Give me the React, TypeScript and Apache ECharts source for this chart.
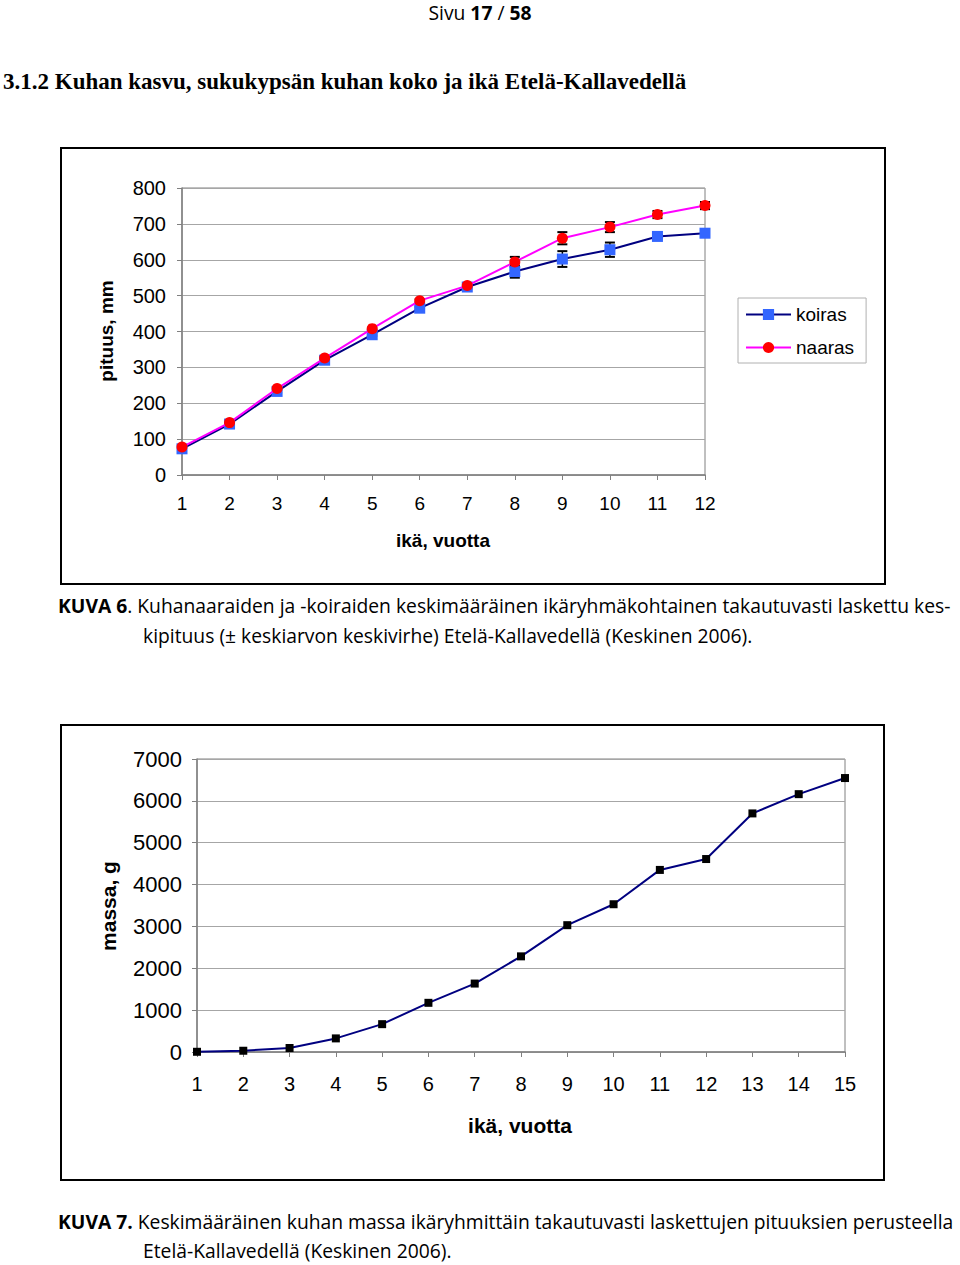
import React, { useEffect, useRef } from 'react';
import * as echarts from 'echarts';

// Figure 6: length by age
const ages12 = ['1', '2', '3', '4', '5', '6', '7', '8', '9', '10', '11', '12'];
const koiras = [73, 142, 233, 320, 391, 465, 524, 567, 602, 628, 665, 674];
const naaras = [78, 146, 241, 326, 408, 486, 528, 594, 660, 691, 726, 751];
const koirasErr = [2, 2, 3, 3, 3, 3, 4, 17, 22, 20, 4, 3];
const naarasErr = [2, 2, 3, 3, 3, 4, 4, 14, 17, 14, 10, 10];

// Figure 7: mass by age
const ages15 = ['1', '2', '3', '4', '5', '6', '7', '8', '9', '10', '11', '12', '13', '14', '15'];
const massa = [5, 30, 95, 325, 665, 1175, 1635, 2285, 3030, 3530, 4350, 4610, 5700, 6160, 6545];

const ARIAL = 'Liberation Sans, Arial, sans-serif';
const NARROW = 'Liberation Sans Narrow, Liberation Sans, Arial, sans-serif';
const BODY = 'Open Sans, Lato, sans-serif';
const SERIF = 'Liberation Serif, Cambria, serif';
const BODY_SIZE = 19.3;

function errorBars(values: number[], errs: number[]) {
  return values.map((v, i) => [i, v - errs[i], v + errs[i]]);
}

const renderErr = (params: any, api: any) => {
  const x = api.value(0);
  const lo = api.coord([x, api.value(1)]);
  const hi = api.coord([x, api.value(2)]);
  const w = 5;
  const style = { stroke: '#000', lineWidth: 1.5 };
  const cap = { stroke: '#000', lineWidth: 2 };
  return {
    type: 'group',
    children: [
      { type: 'line', shape: { x1: lo[0], y1: lo[1], x2: hi[0], y2: hi[1] }, style },
      { type: 'line', shape: { x1: lo[0] - w, y1: lo[1], x2: lo[0] + w, y2: lo[1] }, style: cap },
      { type: 'line', shape: { x1: hi[0] - w, y1: hi[1], x2: hi[0] + w, y2: hi[1] }, style: cap },
    ],
  };
};

const plain = (v: number) => String(v);

export default function App() {
  const ref = useRef<HTMLDivElement>(null);
  useEffect(() => {
    if (!ref.current) return;
    const chart = echarts.init(ref.current, null, { renderer: 'svg' });
    const axisGray = '#808080';
    const gridGray = '#a6a6a6';
    chart.setOption({
      animation: false,
      backgroundColor: '#fff',
      grid: [
        { left: 182, top: 188, width: 523, height: 287, show: true, borderColor: axisGray, borderWidth: 1 },
        { left: 197, top: 759, width: 648, height: 293, show: true, borderColor: axisGray, borderWidth: 1 },
      ],
      xAxis: [
        {
          gridIndex: 0,
          type: 'category',
          data: ages12,
          boundaryGap: false,
          axisLine: { lineStyle: { color: axisGray, width: 1.5 } },
          axisTick: { show: true, length: 5, lineStyle: { color: axisGray } },
          axisLabel: { color: '#000', fontSize: 19, fontFamily: ARIAL, margin: 19 },
          splitLine: { show: false },
        },
        {
          gridIndex: 1,
          type: 'category',
          data: ages15,
          boundaryGap: false,
          axisLine: { lineStyle: { color: axisGray, width: 1.5 } },
          axisTick: { show: true, length: 5, lineStyle: { color: axisGray } },
          axisLabel: { color: '#000', fontSize: 20, fontFamily: NARROW, margin: 22 },
          splitLine: { show: false },
        },
      ],
      yAxis: [
        {
          gridIndex: 0,
          type: 'value',
          min: 0,
          max: 800,
          interval: 100,
          axisLine: { show: true, lineStyle: { color: axisGray, width: 1.5 } },
          axisTick: { show: true, length: 5, lineStyle: { color: axisGray } },
          axisLabel: { color: '#000', fontSize: 20, fontFamily: ARIAL, margin: 16, formatter: plain },
          splitLine: { show: true, lineStyle: { color: gridGray, width: 1 } },
        },
        {
          gridIndex: 1,
          type: 'value',
          min: 0,
          max: 7000,
          interval: 1000,
          axisLine: { show: true, lineStyle: { color: axisGray, width: 1.5 } },
          axisTick: { show: true, length: 5, lineStyle: { color: axisGray } },
          axisLabel: { color: '#000', fontSize: 22, fontFamily: ARIAL, margin: 15, formatter: plain },
          splitLine: { show: true, lineStyle: { color: gridGray, width: 1 } },
        },
      ],
      legend: {
        data: ['koiras', 'naaras'],
        orient: 'vertical',
        left: 738,
        top: 298,
        itemWidth: 45,
        itemHeight: 14,
        itemGap: 14,
        padding: [7, 12, 6, 7],
        borderColor: '#b0b0b0',
        borderWidth: 1,
        textStyle: { fontSize: 19, fontFamily: ARIAL, color: '#000' },
      },
      series: [
        {
          name: 'koirasErr',
          type: 'custom',
          xAxisIndex: 0,
          yAxisIndex: 0,
          data: errorBars(koiras, koirasErr),
          renderItem: renderErr,
          encode: { x: 0, y: [1, 2] },
          z: 1,
        },
        {
          name: 'naarasErr',
          type: 'custom',
          xAxisIndex: 0,
          yAxisIndex: 0,
          data: errorBars(naaras, naarasErr),
          renderItem: renderErr,
          encode: { x: 0, y: [1, 2] },
          z: 1,
        },
        {
          name: 'koiras',
          type: 'line',
          xAxisIndex: 0,
          yAxisIndex: 0,
          data: koiras,
          symbol: 'rect',
          symbolSize: 11,
          clip: false,
          lineStyle: { color: '#000080', width: 2 },
          itemStyle: { color: '#3366ff' },
          z: 3,
        },
        {
          name: 'naaras',
          type: 'line',
          xAxisIndex: 0,
          yAxisIndex: 0,
          data: naaras,
          symbol: 'circle',
          symbolSize: 11,
          clip: false,
          lineStyle: { color: '#ff00ff', width: 2 },
          itemStyle: { color: '#ff0000' },
          z: 4,
        },
        {
          name: 'massa',
          type: 'line',
          xAxisIndex: 1,
          yAxisIndex: 1,
          data: massa,
          symbol: 'rect',
          symbolSize: 8,
          clip: false,
          lineStyle: { color: '#000080', width: 2 },
          itemStyle: { color: '#000' },
          z: 3,
        },
      ],
      graphic: [
        {
          type: 'text',
          x: 480,
          y: 12,
          style: {
            text: '{r|Sivu }{b|17}{r| / }{b|58}',
            align: 'center',
            verticalAlign: 'middle',
            rich: {
              r: { fontFamily: BODY, fontSize: BODY_SIZE, fill: '#000' },
              b: { fontFamily: BODY, fontSize: BODY_SIZE, fontWeight: 'bold', fill: '#000' },
            },
          },
        },
        {
          type: 'text',
          x: 3,
          y: 81,
          style: {
            text: '3.1.2 Kuhan kasvu, sukukypsän kuhan koko ja ikä Etelä-Kallavedellä',
            fontFamily: SERIF,
            fontWeight: 'bold',
            fontSize: 23,
            fill: '#000',
            verticalAlign: 'middle',
          },
        },
        {
          type: 'rect',
          shape: { x: 61, y: 148, width: 824, height: 436 },
          style: { fill: 'none', stroke: '#000', lineWidth: 2 },
        },
        {
          type: 'rect',
          shape: { x: 61, y: 725, width: 823, height: 455 },
          style: { fill: 'none', stroke: '#000', lineWidth: 2 },
        },
        {
          type: 'text',
          x: 106,
          y: 331,
          rotation: Math.PI / 2,
          style: {
            text: 'pituus, mm',
            fontFamily: ARIAL,
            fontWeight: 'bold',
            fontSize: 19,
            fill: '#000',
            align: 'center',
            verticalAlign: 'middle',
          },
        },
        {
          type: 'text',
          x: 443,
          y: 540,
          style: {
            text: 'ikä, vuotta',
            fontFamily: ARIAL,
            fontWeight: 'bold',
            fontSize: 19,
            fill: '#000',
            align: 'center',
            verticalAlign: 'middle',
          },
        },
        {
          type: 'text',
          x: 108,
          y: 906,
          rotation: Math.PI / 2,
          style: {
            text: 'massa, g',
            fontFamily: ARIAL,
            fontWeight: 'bold',
            fontSize: 21,
            fill: '#000',
            align: 'center',
            verticalAlign: 'middle',
          },
        },
        {
          type: 'text',
          x: 520,
          y: 1125,
          style: {
            text: 'ikä, vuotta',
            fontFamily: NARROW,
            fontWeight: 'bold',
            fontSize: 21,
            fill: '#000',
            align: 'center',
            verticalAlign: 'middle',
          },
        },
        {
          type: 'text',
          x: 58,
          y: 605,
          style: {
            text: '{b|KUVA 6}{r|. Kuhanaaraiden ja -koiraiden keskimääräinen ikäryhmäkohtainen takautuvasti laskettu kes-}',
            verticalAlign: 'middle',
            rich: {
              r: { fontFamily: BODY, fontSize: BODY_SIZE, fill: '#000' },
              b: { fontFamily: BODY, fontSize: BODY_SIZE, fontWeight: 'bold', fill: '#000' },
            },
          },
        },
        {
          type: 'text',
          x: 143,
          y: 635,
          style: {
            text: 'kipituus (± keskiarvon keskivirhe) Etelä-Kallavedellä (Keskinen 2006).',
            fontFamily: BODY,
            fontSize: BODY_SIZE,
            fill: '#000',
            verticalAlign: 'middle',
          },
        },
        {
          type: 'text',
          x: 58,
          y: 1221,
          style: {
            text: '{b|KUVA 7.}{r| Keskimääräinen kuhan massa ikäryhmittäin takautuvasti laskettujen pituuksien perusteella}',
            verticalAlign: 'middle',
            rich: {
              r: { fontFamily: BODY, fontSize: BODY_SIZE, fill: '#000' },
              b: { fontFamily: BODY, fontSize: BODY_SIZE, fontWeight: 'bold', fill: '#000' },
            },
          },
        },
        {
          type: 'text',
          x: 143,
          y: 1250,
          style: {
            text: 'Etelä-Kallavedellä (Keskinen 2006).',
            fontFamily: BODY,
            fontSize: BODY_SIZE,
            fill: '#000',
            verticalAlign: 'middle',
          },
        },
      ],
    });
    return () => chart.dispose();
  }, []);
  return (
    <div
      ref={ref}
      style={{ position: 'absolute', left: 0, top: 0, width: 960, height: 1265, background: '#fff' }}
    />
  );
}
